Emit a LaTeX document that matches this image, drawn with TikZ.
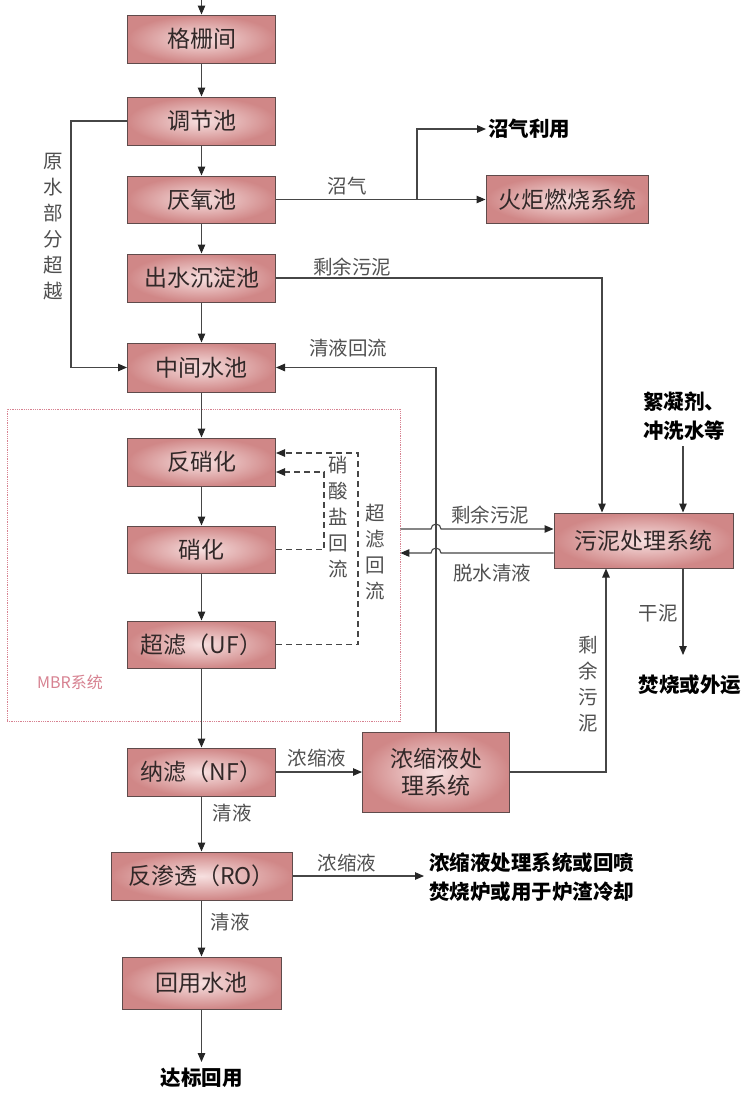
\documentclass[tikz,border=0pt]{standalone}
\usepackage{fontspec}
\setmainfont{Noto Sans CJK SC}
\usetikzlibrary{arrows.meta,calc}
\definecolor{boxin}{RGB}{247,224,224}
\definecolor{boxout}{RGB}{208,135,135}
\definecolor{boxline}{RGB}{95,75,75}
\definecolor{lncol}{RGB}{70,70,70}
\definecolor{txt}{RGB}{50,40,40}
\definecolor{lbltxt}{RGB}{80,80,80}
\definecolor{mbrcol}{RGB}{215,130,145}
\begin{document}
\begin{tikzpicture}[x=1pt,y=-1pt,
 box/.style={draw=boxline,line width=1pt,inner color=boxin,outer color=boxout,inner sep=0pt,text=txt,font=\fontsize{23}{27}\selectfont,align=center},
 lbl/.style={text=lbltxt,font=\fontsize{19.5}{26}\selectfont,inner sep=0pt,align=center},
 outtxt/.style={text=black,font=\fontsize{20.5}{29}\selectfont\bfseries,inner sep=0pt,align=left},
 ln/.style={draw=lncol,line width=1.1pt},
 arr/.style={ln,-{Triangle[length=9pt,width=7.5pt,color=black!85]}},
 dsh/.style={ln,dash pattern=on 6pt off 4pt,-{Triangle[length=9pt,width=7.5pt,color=black!85]}}]
\useasboundingbox (0,0) rectangle (755,1103);
\fill[white] (0,0) rectangle (755,1103);
% MBR frame
\node[draw=mbrcol,densely dotted,line width=0.8pt,minimum width=393pt,minimum height=312pt,inner sep=0pt] (mbr) at (203.5,565) {};
\node[text=mbrcol,font=\fontsize{16}{18}\selectfont,inner sep=0pt] (mbrl) at (70,682) {MBR系统};
% main column
\node[box,minimum width=148pt,minimum height=48pt] (g1) at (201.5,39) {格栅间};
\node[box,minimum width=148pt,minimum height=48pt] (g2) at (201.5,121) {调节池};
\node[box,minimum width=148pt,minimum height=47pt] (g3) at (201.5,199.5) {厌氧池};
\node[box,minimum width=148pt,minimum height=48pt] (g4) at (201.5,278) {出水沉淀池};
\node[box,minimum width=148pt,minimum height=49pt] (g5) at (201.5,367.5) {中间水池};
\node[box,minimum width=148pt,minimum height=48pt] (m1) at (201.5,462) {反硝化};
\node[box,minimum width=148pt,minimum height=47pt] (m2) at (201.5,549.5) {硝化};
\node[box,minimum width=148pt,minimum height=47pt] (m3) at (201.5,644.5) {超滤（UF）};
\node[box,minimum width=148pt,minimum height=48pt] (n1) at (201.5,772) {纳滤（NF）};
\node[box,minimum width=181pt,minimum height=48pt] (r1) at (201.5,876) {反渗透（RO）};
\node[box,minimum width=159pt,minimum height=52pt] (h1) at (201.5,983) {回用水池};
% side boxes
\node[box,minimum width=162pt,minimum height=48pt] (f1) at (567,199.5) {火炬燃烧系统};
\node[box,minimum width=147pt,minimum height=80pt] (c1) at (436,772) {浓缩液处\\理系统};
\node[box,minimum width=179pt,minimum height=55pt] (s1) at (643.5,540.5) {污泥处理系统};
% output texts
\node[outtxt,anchor=west] (zqly) at (488,129) {沼气利用};
\node[outtxt,anchor=north west] (xnj) at (643,392) {絮凝剂、\\冲洗水等};
\node[outtxt] (fs) at (690,685) {焚烧或外运};
\node[outtxt] (db) at (201.5,1078) {达标回用};
\node[outtxt,anchor=west] (rot) at (429,877) {浓缩液处理系统或回喷\\焚烧炉或用于炉渣冷却};
% labels
\node[lbl] (l1) at (53,227) {原\\水\\部\\分\\超\\越};
\node[lbl] (l2) at (347,186) {沼气};
\node[lbl] (l3) at (352,267) {剩余污泥};
\node[lbl] (l4) at (348,348) {清液回流};
\node[lbl] (l5) at (338,517) {硝\\酸\\盐\\回\\流};
\node[lbl] (l6) at (375,552) {超\\滤\\回\\流};
\node[lbl] (l7) at (490,515) {剩余污泥};
\node[lbl] (l8) at (492,573) {脱水清液};
\node[lbl] (l9) at (658,613) {干泥};
\node[lbl] (l10) at (588,684) {剩\\余\\污\\泥};
\node[lbl] (l11) at (317,758) {浓缩液};
\node[lbl] (l12) at (232,813) {清液};
\node[lbl] (l13) at (347,863) {浓缩液};
\node[lbl] (l14) at (230,922) {清液};
% main flow
\coordinate (in) at (201.5,0);
\draw[arr] (in) -- (g1.north);
\draw[arr] (g1) -- (g2);
\draw[arr] (g2) -- (g3);
\draw[arr] (g3) -- (g4);
\draw[arr] (g4) -- (g5);
\draw[arr] (g5) -- (m1);
\draw[arr] (m1) -- (m2);
\draw[arr] (m2) -- (m3);
\draw[arr] (m3) -- (n1);
\draw[arr] (n1) -- (r1);
\draw[arr] (r1) -- (h1);
\draw[arr] (h1.south) -- ([yshift=6pt]db.north);
% bypass
\draw[arr] (g2.west) -- ++(-56,0) |- (g5.west);
% biogas
\draw[arr] (g3.east) -- (f1.west);
\coordinate (br) at (417,199.5);
\draw[arr,shorten >=2pt] (br) |- (zqly.west);
% sludge from settling
\draw[arr] (g4.east) -| ([xshift=-41.5pt]s1.north);
% clear liquid return
\draw[arr] (c1.north) |- (g5.east);
% MBR sludge and dewatering return with hops
\coordinate (mo) at (mbr.east |- 0,529);
\coordinate (mi) at (mbr.east |- 0,553);
\draw[arr] (mo) -- (431,529) arc[start angle=180,end angle=0,radius=5pt] -- (s1.west |- mo);
\draw[arr] (s1.west |- mi) -- (441,553) arc[start angle=0,end angle=180,radius=5pt] -- (mi);
% flocculant
\coordinate (xa) at (683,446);
\draw[arr] (xa) -- (xa |- s1.north);
\coordinate (gn) at (683,655);
\draw[arr] (xa |- s1.south) -- (gn);
% concentrate
\draw[arr] (n1.east) -- (c1.west);
\draw[arr] (c1.east) -| ([xshift=-37.5pt]s1.south);
\draw[arr,shorten >=5pt] (r1.east) -- (rot.west |- r1.east);
% internal recirculation
\draw[dsh] (m2.east) -- ++(48,0) |- ($(m1.east)+(0,10)$);
\draw[dsh] (m3.east) -- ++(82,0) |- ($(m1.east)+(0,-9)$);
\end{tikzpicture}
\end{document}
